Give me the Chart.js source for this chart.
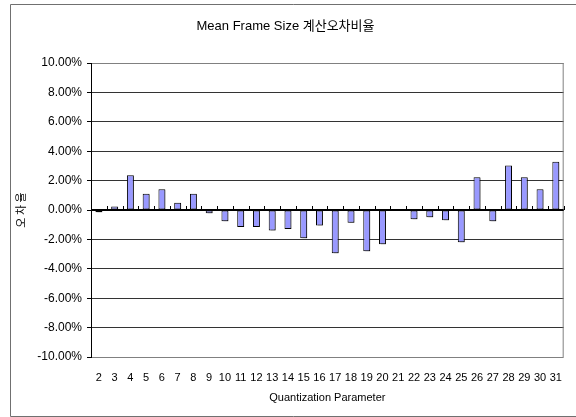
<!DOCTYPE html>
<html lang="ko">
<head>
<meta charset="utf-8">
<title>Mean Frame Size 계산오차비율</title>
<script src="https://cdn.jsdelivr.net/npm/chart.js@4/dist/chart.umd.min.js"></script>
<style>
  html, body { margin: 0; padding: 0; background: #fff; }
  #wrap { width: 576px; height: 417px; }
</style>
</head>
<body>
<div id="wrap"><canvas id="errChart" width="576" height="417"></canvas></div>
<script>
// Quantization Parameter (x축)
const qpLabels = ['2', '3', '4', '5', '6', '7', '8', '9', '10', '11', '12', '13', '14', '15', '16',
  '17', '18', '19', '20', '21', '22', '23', '24', '25', '26', '27', '28', '29', '30', '31'];

// 오차율 (%)
const errorRates = [-0.15, 0.23, 2.37, 1.11, 1.42, 0.50, 1.11, -0.22, -0.77, -1.16,
  -1.15, -1.40, -1.29, -1.92, -1.06, -2.94, -0.86, -2.80, -2.33, 0,
  -0.63, -0.50, -0.70, -2.19, 2.22, -0.77, 3.03, 2.22, 1.42, 3.28];

// y축 범위 / 눈금
const yMin = -10;
const yMax = 10;
const yStep = 2;

const chartTitle = 'Mean Frame Size 계산오차비율';
const xTitle = 'Quantization Parameter';
const yTitle = '오 차 율';

Chart.defaults.font.family = "'Liberation Sans', 'Noto Sans CJK KR', sans-serif";
Chart.defaults.color = '#000';

// 바깥 테두리, 0% 기준선, 오른쪽 테두리 그리기
const frameLines = {
  id: 'frameLines',
  beforeDraw(chart) {
    const { ctx } = chart;
    ctx.save();
    ctx.fillStyle = '#fff';
    ctx.fillRect(0, 0, chart.width, chart.height);
    ctx.strokeStyle = '#707070';
    ctx.lineWidth = 1;
    ctx.beginPath();
    ctx.moveTo(chart.width + 5, 4.5);
    ctx.lineTo(10.5, 4.5);
    ctx.lineTo(10.5, 416.5);
    ctx.lineTo(chart.width + 5, 416.5);
    ctx.stroke();
    ctx.restore();
  },
  beforeDatasetDraw(chart) {
    // 막대 그림자
    const { ctx } = chart;
    ctx.save();
    ctx.shadowColor = 'rgba(0, 0, 0, 0.3)';
    ctx.shadowOffsetX = 2;
    ctx.shadowOffsetY = 1;
    ctx.shadowBlur = 0;
  },
  afterDatasetDraw(chart) {
    chart.ctx.restore();
  },
  afterDatasetsDraw(chart) {
    const { ctx, chartArea, scales } = chart;
    const x = scales.x;
    const zeroY = Math.round(scales.y.getPixelForValue(0));
    ctx.save();
    // 오른쪽 테두리
    ctx.strokeStyle = '#808080';
    ctx.lineWidth = 1;
    ctx.beginPath();
    ctx.moveTo(chartArea.right - 0.5, chartArea.top);
    ctx.lineTo(chartArea.right - 0.5, chartArea.bottom);
    ctx.stroke();
    // 0% 선과 카테고리 눈금
    ctx.strokeStyle = '#000';
    ctx.beginPath();
    const half = (x.getPixelForTick(1) - x.getPixelForTick(0)) / 2;
    for (let i = 0; i <= qpLabels.length; i++) {
      const px = Math.round(x.getPixelForTick(Math.min(i, qpLabels.length - 1)) + (i < qpLabels.length ? -half : half)) + 0.5;
      ctx.moveTo(px, zeroY - 4);
      ctx.lineTo(px, zeroY);
    }
    ctx.stroke();
    ctx.lineWidth = 2;
    ctx.beginPath();
    ctx.moveTo(chartArea.left, zeroY);
    ctx.lineTo(chartArea.right, zeroY);
    ctx.stroke();
    ctx.restore();
  },
};

const errChart = new Chart(document.getElementById('errChart'), {
  type: 'bar',
  data: {
    labels: qpLabels,
    datasets: [
      {
        data: errorRates,
        backgroundColor: '#9999ff',
        borderColor: '#000',
        borderWidth: 1,
        borderSkipped: false,
        barPercentage: 0.44,
        categoryPercentage: 1,
      },
    ],
  },
  options: {
    responsive: false,
    animation: false,
    events: [],
    layout: { padding: { left: 0, right: 5, top: 0, bottom: 0 } },
    plugins: {
      legend: { display: false },
      tooltip: { enabled: false },
      title: {
        display: true,
        text: chartTitle,
        font: { size: 13, weight: 'normal' },
        color: '#000',
        padding: { top: 19, bottom: 28.4 },
      },
    },
    scales: {
      x: {
        grid: { display: false, drawTicks: false },
        border: { display: false },
        ticks: {
          font: { size: 11 },
          padding: 14,
          maxRotation: 0,
          autoSkip: false,
        },
        title: {
          display: true,
          text: xTitle,
          font: { size: 11 },
          padding: { top: 0, bottom: 12 },
        },
        afterFit(scale) {
          scale.height = 60;
        },
      },
      y: {
        min: yMin,
        max: yMax,
        ticks: {
          stepSize: yStep,
          font: { size: 12 },
          padding: 5,
          callback: (v) => v.toFixed(2) + '%',
        },
        grid: {
          color: (c) => (c.tick && Math.abs(c.tick.value) === yMax ? '#808080' : '#333'),
          tickColor: '#000',
          tickLength: 4,
        },
        border: { display: true, color: '#000', width: 1 },
        title: {
          display: true,
          text: yTitle,
          font: { size: 11, family: "'Noto Sans CJK KR', sans-serif" },
          padding: { top: 14, bottom: 0 },
        },
        afterFit(scale) {
          scale.width = 91;
        },
      },
    },
  },
  plugins: [frameLines],
});
</script>
</body>
</html>
